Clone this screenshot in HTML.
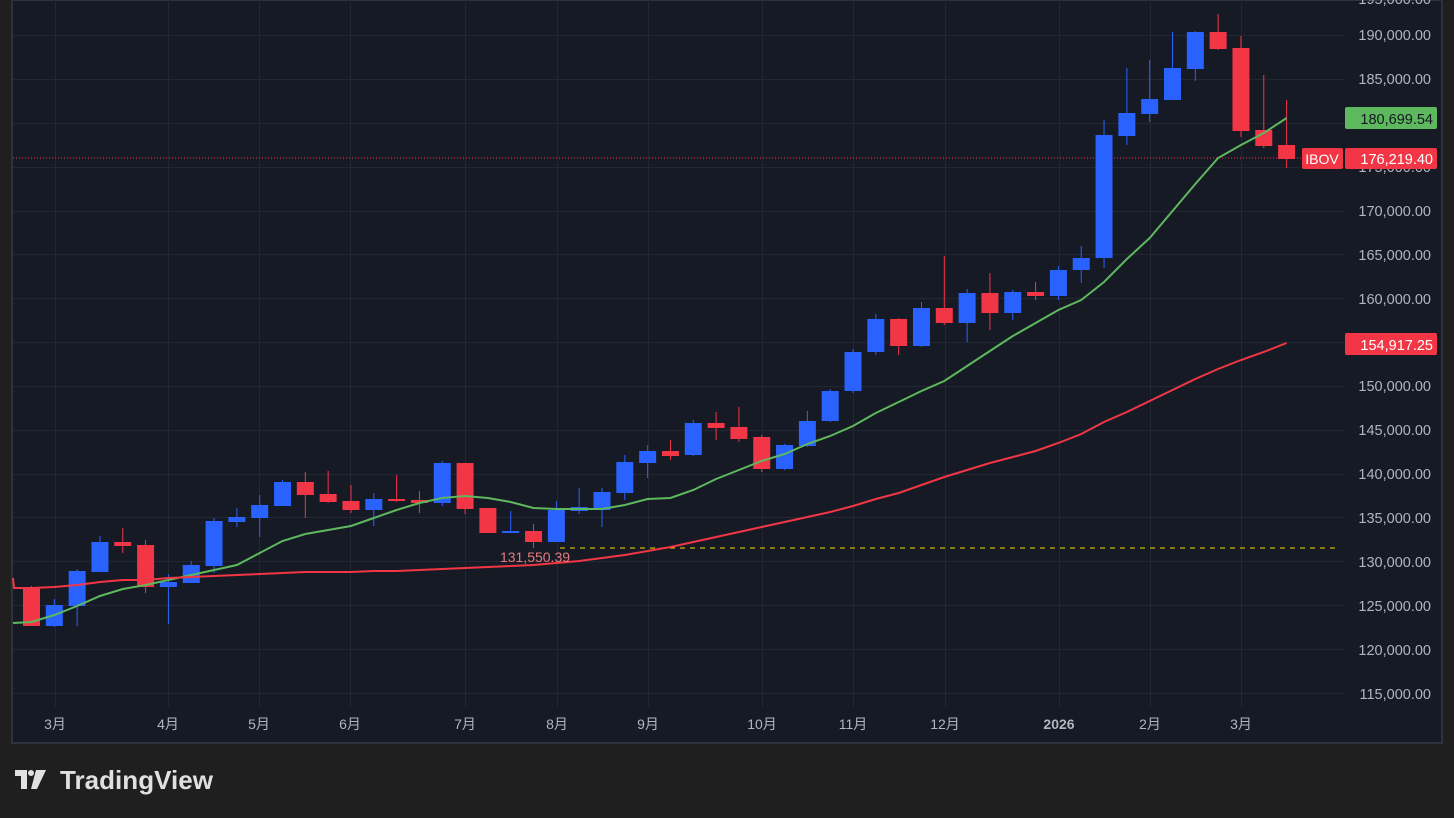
<!DOCTYPE html>
<html><head><meta charset="utf-8"><style>
html,body{margin:0;padding:0;background:#1f1f1f;width:1454px;height:818px;overflow:hidden}
svg{display:block}
text{font-family:"Liberation Sans","Noto Sans CJK SC",sans-serif}
</style></head><body>
<svg id="s" width="1454" height="818" xmlns="http://www.w3.org/2000/svg">
<rect x="0" y="0" width="1454" height="818" fill="#1f1f1f"/>
<rect x="12" y="0" width="1430" height="743" fill="#161a25" stroke="#2e323c" stroke-width="2"/>
<g id="grid" stroke="#232733" stroke-width="1"></g>
<g font-size="14.5" fill="#b2b5be" text-anchor="end">
<text x="1431" y="4">195,000.00</text>
<text x="1431" y="40">190,000.00</text>
<text x="1431" y="84">185,000.00</text>
<text x="1431" y="172">175,000.00</text>
<text x="1431" y="216">170,000.00</text>
<text x="1431" y="260">165,000.00</text>
<text x="1431" y="304">160,000.00</text>
<text x="1431" y="391">150,000.00</text>
<text x="1431" y="435">145,000.00</text>
<text x="1431" y="479">140,000.00</text>
<text x="1431" y="523">135,000.00</text>
<text x="1431" y="567">130,000.00</text>
<text x="1431" y="611">125,000.00</text>
<text x="1431" y="655">120,000.00</text>
<text x="1431" y="699">115,000.00</text>
</g>
<g font-size="14" fill="#b2b5be" text-anchor="middle">
<text x="55" y="729">3月</text><text x="168" y="729">4月</text><text x="259" y="729">5月</text>
<text x="350" y="729">6月</text><text x="465" y="729">7月</text><text x="557" y="729">8月</text>
<text x="648" y="729">9月</text><text x="762" y="729">10月</text><text x="853" y="729">11月</text>
<text x="945" y="729">12月</text><text x="1059" y="729" font-weight="bold">2026</text>
<text x="1150" y="729">2月</text><text x="1241" y="729">3月</text>
</g>
<line x1="13" y1="158" x2="1345" y2="158" stroke="#f23645" stroke-width="1" stroke-dasharray="1,2"/>
<line x1="560" y1="548" x2="1340" y2="548" stroke="#f5d90a" stroke-width="1" stroke-dasharray="5,5"/>
<g id="c"></g>
<polyline id="gma" fill="none" stroke="#5eb85e" stroke-width="2"/>
<polyline id="rma" fill="none" stroke="#f23645" stroke-width="2"/>
<text x="535" y="562" font-size="14" fill="#e57b7b" text-anchor="middle">131,550.39</text>
<rect x="1345" y="107" width="92" height="22" rx="2" fill="#5eb85e"/>
<text x="1433" y="124" font-size="14.5" fill="#131722" text-anchor="end">180,699.54</text>
<rect x="1302" y="148" width="41" height="21" rx="2" fill="#f23645"/>
<text x="1322" y="164" font-size="14" fill="#fff" text-anchor="middle">IBOV</text>
<rect x="1345" y="148" width="92" height="21" rx="2" fill="#f23645"/>
<text x="1433" y="164" font-size="14.5" fill="#fff" text-anchor="end">176,219.40</text>
<rect x="1345" y="333" width="92" height="22" rx="2" fill="#f23645"/>
<text x="1433" y="350" font-size="14.5" fill="#fff" text-anchor="end">154,917.25</text>
<g fill="#e0e0e0">
<path d="M15 770 h12 v19 h-6 v-13 h-6z"/><circle cx="31" cy="773" r="3"/><path d="M36 770 h10 l-9 19 h-6z"/>
<text x="60" y="789" font-size="26" font-weight="bold" fill="#e0e0e0" textLength="153">TradingView</text>
</g>
</svg>
<script>
var NS="http://www.w3.org/2000/svg";
function el(p,t,a){var e=document.createElementNS(NS,t);for(var k in a)e.setAttribute(k,a[k]);p.appendChild(e);return e;}
var g=document.getElementById('grid');
[35,79,123,167,211,254,298,342,386,430,474,517,561,605,649,693].forEach(function(y){el(g,'line',{x1:13,y1:y+.5,x2:1345,y2:y+.5});});
[55,168,259,350,465,557,648,762,853,945,1059,1150,1241].forEach(function(x){el(g,'line',{x1:x+.5,y1:0,x2:x+.5,y2:707});});
var C=[['r',587,626,586,626],['b',605,626,599,627],['b',571,606,569,626],['b',542,572,536,572],['r',542,546,528,553],
['r',545,587,540,593],['b',582,587,574,624],['b',565,583,561,583],['b',521,566,518,573],['b',517,522,508,527],
['b',505,518,495,537],['b',482,506,480,506],['r',482,495,472,518],['r',494,502,471,503],['r',501,510,485,513],
['b',499,510,493,526],['r',499,500,475,502],['r',500,503,491,513],['b',463,503,461,506],['r',463,509,463,514],
['r',508,533,508,533],['b',531,533,511,533],['r',531,542,524,548],['b',510,542,501,542],['b',507,511,488,514],
['b',492,510,488,527],['b',462,493,455,500],['b',451,463,445,478],['r',451,456,440,460],['b',423,455,420,456],
['r',423,428,412,440],['r',427,439,407,442],['r',437,469,435,472],['b',445,469,444,470],['b',421,446,411,447],
['b',391,421,389,422],['b',352,391,349,393],['b',319,352,314,355],['r',319,346,318,355],['b',308,346,302,347],
['r',308,323,256,325],['b',293,323,289,342],['r',293,313,273,330],['b',292,313,290,320],['r',292,296,282,300],
['b',270,296,266,300],['b',258,270,246,283],['b',135,258,120,268],['b',113,136,68,145],['b',99,114,60,122],
['b',68,100,32,100],['b',32,69,31,81],['r',32,49,14,50],['r',48,131,36,137],['r',130,146,75,148],['r',145,159,100,168]];
var cg=document.getElementById('c');
C.forEach(function(c,i){var x=31.5+i*22.82;var col=c[0]=='r'?'#f23645':'#2962ff';
el(cg,'line',{x1:x,y1:c[3],x2:x,y2:c[4],stroke:col,'stroke-width':1});
el(cg,'rect',{x:x-8.5,y:c[1],width:17,height:Math.max(2,c[2]-c[1]),fill:col});});
var gy=[622,615,606,596,589,585,580,575,570,565,553,541,534,530,526,518,510,503,498,496,498,502,508,509,509,509,505,499,498,490,479,470,461,454,444,436,426,413,402,391,381,366,351,336,323,310,300,282,259,238,211,184,158,145,133,118];
var ry=[588,587,585,582,580,580,578,577,576,575,574,573,572,572,572,571,571,570,569,568,567,566,565,563,561,558,555,551,547,542,537,532,527,522,517,512,506,499,493,485,477,470,463,457,451,443,434,422,412,401,390,379,369,360,352,343];
function pts(a,y0){var s='13,'+y0;a.forEach(function(y,i){s+=' '+(31.5+i*22.82).toFixed(1)+','+y;});return s;}
document.getElementById('gma').setAttribute('points',pts(gy,623));
document.getElementById('rma').setAttribute('points','13,578 14,588 '+pts(ry,588).slice(7));
</script>
</body></html>
